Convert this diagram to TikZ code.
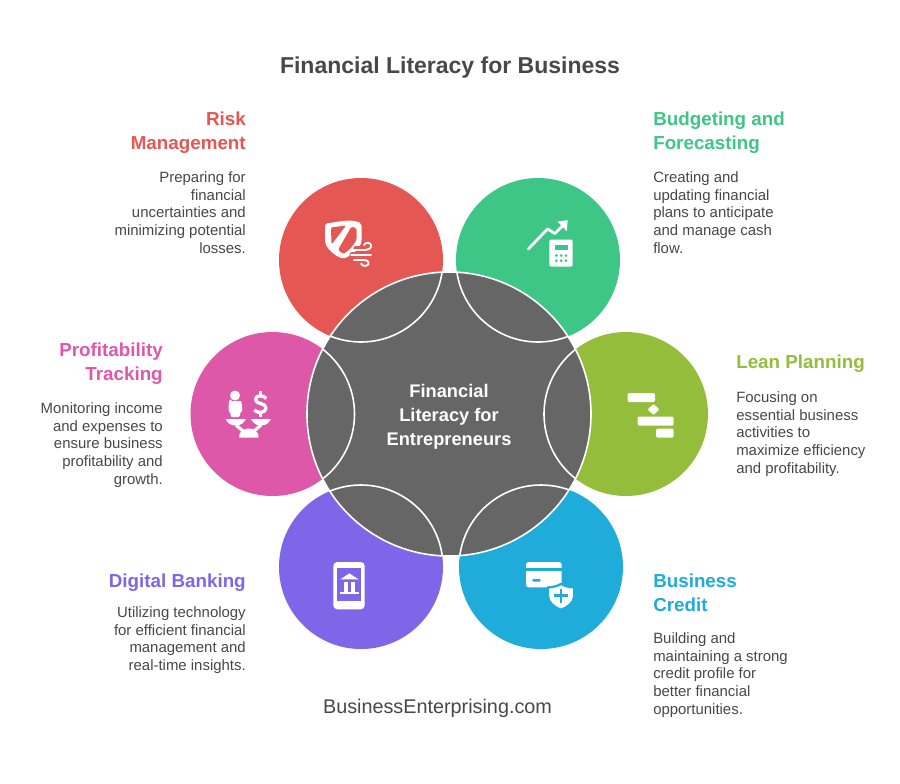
\documentclass[tikz,border=0pt]{standalone}
\usepackage{fontspec}
\setmainfont{Liberation Sans}
\definecolor{cred}{HTML}{E55753}
\definecolor{cgreen}{HTML}{3EC686}
\definecolor{clime}{HTML}{94BD3B}
\definecolor{cblue}{HTML}{1FACDB}
\definecolor{cviolet}{HTML}{7F66E8}
\definecolor{cpink}{HTML}{DE58A9}
\definecolor{cdark}{HTML}{666666}
\definecolor{ctext}{HTML}{484848}
\definecolor{ctitle}{HTML}{484848}
\tikzset{
  petal/.style={circle,minimum size=123pt,inner sep=0pt,fill=#1},
  ring/.style={circle,minimum size=123pt,inner sep=0pt,draw=white,line width=1.2pt},
  head/.style={font=\bfseries\fontsize{14.1}{18}\selectfont,inner sep=0pt},
  bodyL/.style={font=\fontsize{11.2}{13.25}\selectfont,text=ctext,align=left,anchor=north west,inner sep=0pt},
  bodyR/.style={font=\fontsize{11.2}{13.25}\selectfont,text=ctext,align=right,anchor=north east,inner sep=0pt},
  ico/.style={fill=white,draw=none},
  icol/.style={draw=white,fill=none,line width=1.7pt,line cap=round,line join=round},
}
\begin{document}
\begin{tikzpicture}[x=0.75pt,y=-0.75pt]
\useasboundingbox (0,0) rectangle (900,783);
\fill[white] (0,0) rectangle (900,783);
\node[font=\bfseries\fontsize{17.25}{21}\selectfont,text=ctitle,inner sep=0pt] (title) at (450,68) {Financial Literacy for Business};
\node[petal=cred] (r) at (361,260) {};
\node[petal=cgreen] (g) at (538,260) {};
\node[petal=clime] (l) at (626,414) {};
\node[petal=cblue] (b) at (541,567) {};
\node[petal=cviolet] (v) at (361,567) {};
\node[petal=cpink] (p) at (272.5,414) {};
\node[circle,minimum size=213pt,inner sep=0pt,fill=cdark,draw=white,line width=1.2pt] (c) at (449,414) {};
\begin{scope}
\clip (449,414) circle (142);
\foreach \n/\x/\y in {r/361/260,g/538/260,l/626/414,b/541/567,v/361/567,p/272.5/414}
  \node[ring] (\n2) at (\x,\y) {};
\end{scope}
\node[font=\bfseries\fontsize{13.7}{18}\selectfont,text=white,align=center,inner sep=0pt] (ct) at (449,416.5) {Financial\\Literacy for\\Entrepreneurs};
% headings
\node[head,text=cred,align=right,anchor=north east] (rh) at (246,111.5) {Risk\\Management};
\node[head,text=cgreen,align=left,anchor=north west] (gh) at (653,111.5) {Budgeting and\\Forecasting};
\node[head,text=clime,align=left,anchor=north west] (lh) at (736,355) {Lean Planning};
\node[head,text=cblue,align=left,anchor=north west] (bh) at (653,573.5) {Business\\Credit};
\node[head,text=cviolet,align=right,anchor=north east] (vh) at (246,573.5) {Digital Banking};
\node[head,text=cpink,align=right,anchor=north east] (ph) at (163,342.5) {Profitability\\Tracking};
% bodies
\node[bodyR] (rb) at (246,171.5) {Preparing for\\financial\\uncertainties and\\minimizing potential\\losses.};
\node[bodyL] (gb) at (653,171.5) {Creating and\\updating financial\\plans to anticipate\\and manage cash\\flow.};
\node[bodyL] (lb) at (736,391.5) {Focusing on\\essential business\\activities to\\maximize efficiency\\and profitability.};
\node[bodyL] (bb) at (653,632.5) {Building and\\maintaining a strong\\credit profile for\\better financial\\opportunities.};
\node[bodyR] (vb) at (246,606.5) {Utilizing technology\\for efficient financial\\management and\\real-time insights.};
\node[bodyR] (pb) at (163,402.5) {Monitoring income\\and expenses to\\ensure business\\profitability and\\growth.};
\node[font=\fontsize{14.85}{17}\selectfont,text=ctext,inner sep=0pt] (site) at (437.5,708.5) {BusinessEnterprising.com};
% red icon: shield and wind
\fill[ico,rounded corners=1.5pt] (325,223.5) .. controls (336,222.5) and (350,218) .. (361.5,223.5) -- (361.5,238) .. controls (361.5,248) and (352,255) .. (343,259) .. controls (334,255) and (325,248) .. (325,238) -- cycle;
\fill[cred,rounded corners=1pt] (331,227.5) -- (346,225.5) -- (331.5,244.5) -- cycle;
\fill[cred,rounded corners=1pt] (351.5,226.5) -- (356.5,228.5) -- (356.5,240) -- (351,248) -- (343.5,254) -- (338,250) -- cycle;
\draw[cred,line width=4pt,line cap=round] (356,248.5) -- (371,248.5) (352,255) -- (372,255) (356,262) -- (370,262);
\draw[icol,line width=1.4pt] (353,250) -- (364,250) .. controls (369,250) and (372,247.5) .. (371,245) .. controls (370,242) and (365,242) .. (364,245);
\draw[icol,line width=1.4pt] (351,255) -- (371,255);
\draw[icol,line width=1.4pt] (354,260) -- (364,260) .. controls (369,260) and (370,264) .. (367,265.5) .. controls (364,266.5) and (361,265) .. (361,263.5);
% green icon: rising line and calculator
\draw[icol,line width=2.1pt] (528.3,249) -- (547.5,229) -- (555,233.5) -- (565,223.3);
\fill[ico] (567.7,220.2) -- (566.7,231) -- (557.5,221.5) -- cycle;
\fill[ico,rounded corners=1.5pt] (549.3,239.5) rectangle (572.7,266.7);
\fill[cgreen] (555,245) rectangle (567.8,250);
\foreach \px in {556.4,561.2,566} \foreach \py in {255.5,260.7} \fill[cgreen] (\px,\py) circle (1.5);
% lime icon: gantt chart
\fill[ico,rounded corners=1pt] (627.5,393) rectangle (655,402);
\fill[ico,rounded corners=1pt] (637.5,416.5) rectangle (673.7,425.5);
\fill[ico,rounded corners=1pt] (656,428.7) rectangle (673.7,437.5);
\fill[ico,rounded corners=.8pt] (653.5,404) -- (659.5,409.5) -- (653.5,415) -- (647.5,409.5) -- cycle;
% pink icon: balance
\fill[ico] (235,395.5) circle (5);
\fill[ico,rounded corners=1pt] (230.5,401) -- (239.5,401) .. controls (241.5,401) and (242.3,408) .. (242.3,412) -- (240,412) -- (240,417) -- (230.5,417) -- (230.5,412) -- (228.5,412) .. controls (228.5,408) and (229,401) .. (230.5,401) -- cycle;
\draw[icol,line width=2.5pt,line cap=butt] (266.3,398.5) .. controls (264,395) and (255.5,394.5) .. (255.5,399.5) .. controls (255.5,404.5) and (266,402.5) .. (266,408) .. controls (266,413.5) and (257,413.5) .. (254.3,410);
\draw[icol,line width=2.2pt,line cap=butt] (260.5,391) -- (260.5,395) (260.5,412.5) -- (260.5,417);
\fill[ico] (225.7,419) -- (245.8,419) .. controls (244,423) and (241,425.5) .. (235.7,425.5) .. controls (230.5,425.5) and (227.5,423) .. (225.7,419) -- cycle;
\fill[ico] (251,419) -- (271,419) .. controls (269,423) and (266,425.5) .. (261,425.5) .. controls (256,425.5) and (253,423) .. (251,419) -- cycle;
\draw[icol,line width=2.4pt,line cap=butt] (236,425) -- (243.5,431.5);
\draw[icol,line width=2.4pt,line cap=butt] (261,425) -- (253.5,431.5);
\fill[ico] (239.3,437.5) -- (239.3,434.5) .. controls (241,430.5) and (245,428.5) .. (249,428.5) .. controls (253,428.5) and (256.5,430.5) .. (258.3,434.5) -- (258.3,437.5) -- cycle;
% violet icon: phone with bank
\fill[ico,rounded corners=3pt] (333.3,562) rectangle (364.7,609.3);
\fill[cviolet] (337.3,568.3) rectangle (360.7,600.7);
\fill[ico] (349.3,573.3) -- (358.5,579.3) -- (340.5,579.3) -- cycle;
\fill[ico] (343.7,581.7) rectangle (347.5,591.5);
\fill[ico] (351,581.7) rectangle (354.8,591.5);
\fill[ico] (340.3,591.5) rectangle (358.5,594.2);
% blue icon: card with shield
\fill[ico,rounded corners=2pt] (526,562) rectangle (561.7,587.3);
\fill[cblue] (526,568.3) rectangle (561.7,571);
\fill[cblue,rounded corners=.8pt] (532.3,579) rectangle (540.7,581.6);
\path[fill=white,draw=cblue,line width=1.7pt] (548,587.5) .. controls (555,587) and (558,585.5) .. (561,584) .. controls (564,585.5) and (567,587) .. (574.2,587.5) -- (574.2,596) .. controls (574.2,603) and (567,607.5) .. (561,609.8) .. controls (555,607.5) and (548,603) .. (548,596) -- cycle;
\fill[cblue] (554,594.3) rectangle (568,597);
\fill[cblue] (559.7,588.7) rectangle (562.4,602.8);
\end{tikzpicture}
\end{document}
